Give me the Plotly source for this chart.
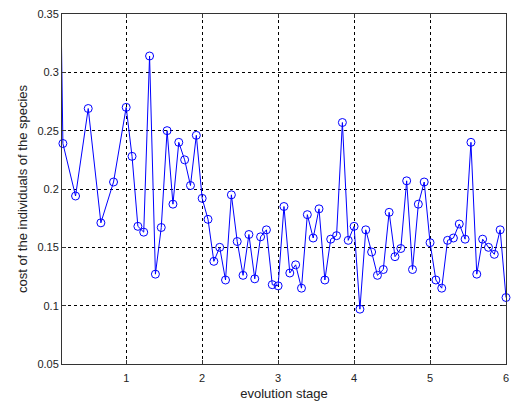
import plotly.graph_objects as go

# evolution stage positions: stage 0-1 sampled in sixths, later stages in thirteenths
stage_first = [0, 1/6, 2/6, 3/6, 4/6, 5/6, 1]
stage_rest = [s + k / 13 for s in range(1, 6) for k in range(1, 14)]
x_vals = stage_first + stage_rest

cost = [
    1.00,  # initial (off-axis)
    0.239, 0.194, 0.269, 0.171, 0.206, 0.270,
    # stage 1-2
    0.228, 0.168, 0.163, 0.314, 0.127, 0.167, 0.250, 0.187, 0.240, 0.225, 0.203, 0.246, 0.192,
    # stage 2-3
    0.174, 0.138, 0.150, 0.122, 0.195, 0.155, 0.126, 0.161, 0.123, 0.159, 0.165, 0.118, 0.117,
    # stage 3-4
    0.185, 0.128, 0.135, 0.115, 0.178, 0.158, 0.183, 0.122, 0.157, 0.160, 0.257, 0.156, 0.168,
    # stage 4-5
    0.097, 0.165, 0.146, 0.126, 0.131, 0.180, 0.142, 0.149, 0.207, 0.131, 0.187, 0.206, 0.154,
    # stage 5-6
    0.122, 0.115, 0.156, 0.158, 0.170, 0.157, 0.240, 0.127, 0.157, 0.150, 0.144, 0.165, 0.107,
]

x_ticks = [1, 2, 3, 4, 5, 6]
x_tick_text = ["1", "2", "3", "4", "5", "6"]
y_ticks = [0.05, 0.1, 0.15, 0.2, 0.25, 0.3, 0.35]
y_tick_text = ["0.05", "0.1", "0.15", "0.2", "0.25", "0.3", "0.35"]

FONT = "Liberation Sans, Arial, sans-serif"

fig = go.Figure()
fig.add_trace(go.Scatter(
    x=x_vals, y=cost, mode="lines+markers",
    line=dict(color="#0000ff", width=1),
    marker=dict(symbol="circle-open", size=8, color="#0000ff", line=dict(width=1, color="#0000ff")),
    cliponaxis=False, showlegend=False,
))

axis_common = dict(
    showline=True, linecolor="#333333", linewidth=1, mirror="ticks",
    ticks="inside", ticklen=4, tickcolor="#333333",
    showgrid=True, gridcolor="#000000", griddash="3px,3px", gridwidth=1,
    zeroline=False,
    tickfont=dict(family=FONT, size=11, color="#222222"),
)

fig.update_xaxes(
    range=[0.1548, 6], tickvals=x_ticks, ticktext=x_tick_text,
    ticklabelstandoff=4,
    title=dict(text="evolution stage", standoff=5,
               font=dict(family=FONT, size=13, color="#222222")),
    **axis_common,
)
fig.update_yaxes(
    range=[0.05, 0.35], tickvals=y_ticks, ticktext=y_tick_text,
    title=dict(text="cost of the individuals of the species", standoff=6,
               font=dict(family=FONT, size=13, color="#222222")),
    **axis_common,
)

fig.update_layout(
    width=517, height=408,
    margin=dict(l=62, r=8, t=13, b=44),
    paper_bgcolor="white", plot_bgcolor="white",
)

fig.write_html("out.html")
